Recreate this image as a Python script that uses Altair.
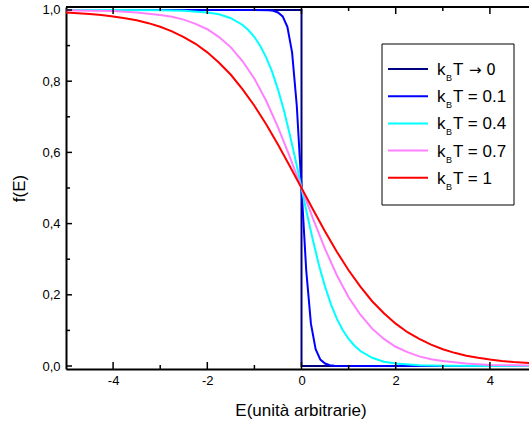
import altair as alt
import pandas as pd

# ---- data ----
E_step = [-5, 0, 0, 5]
f_step = [1, 1, 0, 0]

E_01 = [-5, -1, -0.7, -0.6, -0.5, -0.4, -0.3, -0.2, -0.1, 0, 0.1, 0.2, 0.3, 0.4, 0.5, 0.6, 0.7, 1, 5]
f_01 = [1, 1, 0.999, 0.998, 0.993, 0.982, 0.953, 0.881, 0.731, 0.5, 0.269, 0.119, 0.047, 0.018, 0.007, 0.002, 0.001, 0, 0]

E_04 = [-5, -4, -3, -2.5, -2, -1.75, -1.5, -1.25, -1.125, -1, -0.875, -0.75, -0.625, -0.5, -0.375,
        -0.25, -0.125, 0, 0.125, 0.25, 0.375, 0.5, 0.625, 0.75, 0.875, 1, 1.125, 1.25, 1.5, 1.75,
        2, 2.5, 3, 4, 5]
f_04 = [1, 1, 0.999, 0.998, 0.993, 0.988, 0.977, 0.958, 0.943, 0.924, 0.899, 0.867, 0.827, 0.777, 0.719,
        0.651, 0.578, 0.5, 0.422, 0.349, 0.281, 0.223, 0.173, 0.133, 0.101, 0.076, 0.057, 0.042, 0.023, 0.012,
        0.007, 0.002, 0.001, 0, 0]

E_07 = [-5, -4.5, -4, -3.5, -3, -2.75, -2.5, -2.25, -2, -1.75, -1.5, -1.25, -1, -0.75, -0.5, -0.25, 0,
        0.25, 0.5, 0.75, 1, 1.25, 1.5, 1.75, 2, 2.25, 2.5, 2.75, 3, 3.5, 4, 4.5, 5]
f_07 = [0.999, 0.998, 0.997, 0.993, 0.986, 0.981, 0.973, 0.961, 0.946, 0.924, 0.895, 0.856, 0.807, 0.745,
        0.671, 0.588, 0.5, 0.412, 0.329, 0.255, 0.193, 0.144, 0.105, 0.076, 0.054, 0.039, 0.027, 0.019,
        0.014, 0.007, 0.003, 0.002, 0.001]

E_10 = [-5, -4.75, -4.5, -4.25, -4, -3.75, -3.5, -3.25, -3, -2.75, -2.5, -2.25, -2, -1.75, -1.5, -1.25,
        -1, -0.75, -0.5, -0.25, 0, 0.25, 0.5, 0.75, 1, 1.25, 1.5, 1.75, 2, 2.25, 2.5, 2.75, 3, 3.25, 3.5,
        3.75, 4, 4.25, 4.5, 4.75, 5]
f_10 = [0.993, 0.991, 0.989, 0.986, 0.982, 0.977, 0.971, 0.963, 0.953, 0.940, 0.924, 0.905, 0.881, 0.852,
        0.818, 0.777, 0.731, 0.679, 0.622, 0.562, 0.5, 0.438, 0.378, 0.321, 0.269, 0.223, 0.182, 0.148,
        0.119, 0.095, 0.076, 0.060, 0.047, 0.037, 0.029, 0.023, 0.018, 0.014, 0.011, 0.009, 0.007]

legend_tail = ["T", "T = 0.1", "T = 0.4", "T = 0.7", "T = 1"]
colors = ["#000080", "#0000FF", "#00FFFF", "#FF80FF", "#FF0000"]

x_major = [-4, -2, 0, 2, 4]
x_minor = [-3, -1, 1, 3]
y_major = [0, 0.2, 0.4, 0.6, 0.8, 1.0]
y_minor = [0.1, 0.3, 0.5, 0.7, 0.9]

# ---- build table ----
rows = []
for s, (E, f) in enumerate([(E_step, f_step), (E_01, f_01), (E_04, f_04), (E_07, f_07), (E_10, f_10)]):
    for i, (e, v) in enumerate(zip(E, f)):
        rows.append({"E": e, "f": v, "s": s, "i": i})
df = pd.DataFrame(rows)

W, H = 463, 362
FONT = "Liberation Sans"
xscale = alt.Scale(domain=[-5, 4.83], nice=False, zero=False)
yscale = alt.Scale(domain=[-0.0084, 1.0084], nice=False, zero=False)

xaxis = alt.Axis(
    values=x_major, ticks=False, grid=False, domainColor="black", domainWidth=2,
    labelExpr="'' + datum.value", labelFontSize=13, labelColor="black", labelPadding=5,
    labelFont=FONT, title="E(unità arbitrarie)", titleFont=FONT, titleFontSize=17,
    titleFontWeight="normal", titleColor="black", titleX=234.5, titleY=46,
    titleBaseline="alphabetic", titleAlign="center")
yaxis = alt.Axis(
    values=y_major, ticks=False, grid=False, domainColor="black", domainWidth=2,
    labelExpr="replace(format(datum.value, '.1f'), '.', ',')", labelFontSize=13,
    labelColor="black", labelPadding=6, labelFont=FONT, title="f(E)", titleFont=FONT,
    titleFontSize=17, titleFontWeight="normal", titleColor="black", titleX=-38, titleY=181,
    titleAngle=270, titleBaseline="bottom", titleAlign="center")

lines = alt.Chart(df).mark_line(strokeWidth=2, clip=True).encode(
    x=alt.X("E:Q", scale=xscale, axis=xaxis),
    y=alt.Y("f:Q", scale=yscale, axis=yaxis),
    color=alt.Color("s:N", scale=alt.Scale(domain=[0, 1, 2, 3, 4], range=colors), legend=None),
    order=alt.Order("i:Q"),
)

layers = [lines]


def xticks(vals, length, top):
    d = pd.DataFrame({"E": vals})
    return alt.Chart(d).mark_rule(color="black", strokeWidth=1.5).encode(
        x=alt.X("E:Q", scale=xscale, axis=xaxis),
        y=alt.value(0 if top else H),
        y2=alt.value(length if top else H - length),
    )


def yticks(vals, length):
    d = pd.DataFrame({"f": vals})
    return alt.Chart(d).mark_rule(color="black", strokeWidth=1.5).encode(
        y=alt.Y("f:Q", scale=yscale, axis=yaxis),
        x=alt.value(0),
        x2=alt.value(length),
    )


layers += [xticks(x_major, 7, False), xticks(x_minor, 4, False),
           xticks(x_major, 7, True), xticks(x_minor, 4, True),
           yticks(y_major, 6), yticks(y_minor, 4)]

one = pd.DataFrame({"a": [0]})
top_border = alt.Chart(one).mark_rule(color="black", strokeWidth=2).encode(
    x=alt.value(0), x2=alt.value(W), y=alt.value(0))
layers.append(top_border)

# ---- legend ----
box = alt.Chart(one).mark_rect(fill="white", stroke="black", strokeWidth=1).encode(
    x=alt.value(316), x2=alt.value(448), y=alt.value(37), y2=alt.value(198))
layers.append(box)

row_y0, row_dy = 62, 27.2
for k, (tail, col) in enumerate(zip(legend_tail, colors)):
    ry = row_y0 + k * row_dy
    layers.append(alt.Chart(one).mark_rule(color=col, strokeWidth=2).encode(
        x=alt.value(322), x2=alt.value(362), y=alt.value(ry)))
    layers.append(alt.Chart(one).mark_text(text="k", font=FONT, fontSize=17, align="left",
                                           baseline="alphabetic", color="black").encode(
        x=alt.value(371), y=alt.value(ry + 6)))
    layers.append(alt.Chart(one).mark_text(text="B", font=FONT, fontSize=9, align="left",
                                           baseline="alphabetic", color="black").encode(
        x=alt.value(380), y=alt.value(ry + 12)))
    layers.append(alt.Chart(one).mark_text(text=tail, font=FONT, fontSize=17, align="left",
                                           baseline="alphabetic", color="black").encode(
        x=alt.value(387), y=alt.value(ry + 6)))

# arrow of the first entry, in a font with a full-size arrow glyph
layers.append(alt.Chart(one).mark_text(text="\u2192 0", font="DejaVu Sans", fontSize=15, align="left",
                                       baseline="alphabetic", color="black").encode(
    x=alt.value(403), y=alt.value(row_y0 + 6)))

chart = alt.layer(*layers).properties(
    width=W, height=H,
    autosize=alt.AutoSizeParams(type="none"),
    padding={"left": 66, "top": 7, "right": 0, "bottom": 54},
    background="white",
).configure_view(stroke="transparent")

chart.save("out.html", embed_options={"renderer": "svg", "actions": False})
